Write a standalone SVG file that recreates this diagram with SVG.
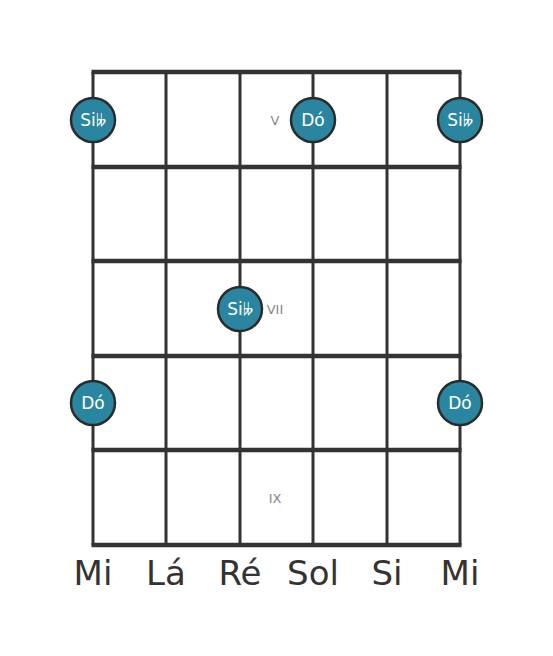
<svg xmlns="http://www.w3.org/2000/svg" width="553" height="656" viewBox="0 0 553 656">
<style>
.s{stroke:#333;stroke-width:3;fill:none}
.f{stroke:#333;stroke-width:4.5;fill:none}
.dot circle{fill:#2a86a0;stroke:#2b2b2b;stroke-width:2.5}
.dot text{fill:#fff;font-family:"DejaVu Sans",sans-serif;font-size:17px;text-anchor:middle;dominant-baseline:central}
.fr{fill:#888;font-family:"DejaVu Sans",sans-serif;font-size:13px;text-anchor:middle;dominant-baseline:central}
.lab{fill:#333;font-family:"DejaVu Sans",sans-serif;font-size:34px;text-anchor:middle}
</style>
<rect width="553" height="656" fill="#fff"/>
<g id="strings">
<line class="s" x1="93" y1="72" x2="93" y2="545"/>
<line class="s" x1="166" y1="72" x2="166" y2="545"/>
<line class="s" x1="240" y1="72" x2="240" y2="545"/>
<line class="s" x1="313" y1="72" x2="313" y2="545"/>
<line class="s" x1="387" y1="72" x2="387" y2="545"/>
<line class="s" x1="460" y1="72" x2="460" y2="545"/>
</g>
<g id="frets">
<line class="f" x1="91.5" y1="72" x2="461.5" y2="72"/>
<line class="f" x1="91.5" y1="167" x2="461.5" y2="167"/>
<line class="f" x1="91.5" y1="261" x2="461.5" y2="261"/>
<line class="f" x1="91.5" y1="356" x2="461.5" y2="356"/>
<line class="f" x1="91.5" y1="450" x2="461.5" y2="450"/>
<line class="f" x1="91.5" y1="545" x2="461.5" y2="545"/>
</g>
<g id="fret-labels">
<text class="fr" x="275" y="120">V</text>
<text class="fr" x="275" y="309">VII</text>
<text class="fr" x="275" y="498">IX</text>
</g>
<g id="n1" class="dot"><circle cx="93" cy="120" r="22"/><text x="93" y="120">Si𝄫</text></g>
<g id="n2" class="dot"><circle cx="313" cy="120" r="22"/><text x="313" y="120">Dó</text></g>
<g id="n3" class="dot"><circle cx="460" cy="120" r="22"/><text x="460" y="120">Si𝄫</text></g>
<g id="n4" class="dot"><circle cx="240" cy="309" r="22"/><text x="240" y="309">Si𝄫</text></g>
<g id="n5" class="dot"><circle cx="93" cy="403" r="22"/><text x="93" y="403">Dó</text></g>
<g id="n6" class="dot"><circle cx="460" cy="403" r="22"/><text x="460" y="403">Dó</text></g>
<g id="string-labels">
<text class="lab" x="93" y="585">Mi</text>
<text class="lab" x="166" y="585">Lá</text>
<text class="lab" x="240" y="585">Ré</text>
<text class="lab" x="313" y="585">Sol</text>
<text class="lab" x="387" y="585">Si</text>
<text class="lab" x="460" y="585">Mi</text>
</g>
</svg>
